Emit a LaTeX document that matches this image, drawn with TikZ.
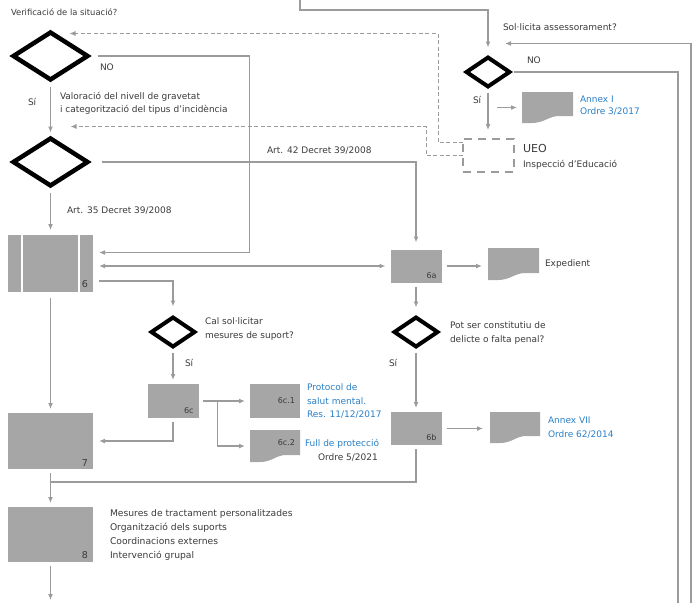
\documentclass[tikz,border=0pt]{standalone}
\usepackage{fontspec}
\setmainfont{DejaVu Sans}
\usetikzlibrary{shapes.geometric,arrows.meta,calc}
\definecolor{boxg}{HTML}{A6A6A6}
\definecolor{lineg}{HTML}{9B9B9B}
\definecolor{txt}{HTML}{3A3A3A}
\definecolor{blu}{HTML}{2A7FC6}
\newcommand{\docfill}[1]{%
  \fill[boxg] (#1.north west) -- (#1.north east) -- ([yshift=7pt]#1.south east)
   -- ([xshift=-14pt,yshift=7pt]#1.south east)
   .. controls ([xshift=-24pt,yshift=7pt]#1.south east) and ([xshift=22pt,yshift=0pt]#1.south west)
   .. ([xshift=10pt]#1.south west) -- (#1.south west) -- cycle;}
\begin{document}
\begin{tikzpicture}[x=1pt,y=-1pt,
  every node/.style={inner sep=0pt, outer sep=0pt, text=txt},
  bigdia/.style={diamond, draw=black, line width=4.5pt, minimum width=74pt, minimum height=47pt},
  smalldia/.style={diamond, draw=black, line width=4pt, minimum width=43pt, minimum height=29pt},
  gbox/.style={fill=boxg, minimum width=51pt, minimum height=33pt},
  bigbox/.style={fill=boxg, minimum width=85pt, minimum height=56pt},
  docbox/.style={minimum width=51pt, minimum height=32pt},
  ln/.style={draw=lineg, line width=1.2pt},
  arr/.style={ln, -{Latex[length=6pt,width=5pt]}},
  arrtwo/.style={ln, {Latex[length=6pt,width=5pt]}-{Latex[length=6pt,width=5pt]}},
  dasharr/.style={draw=lineg, line width=0.9pt, dash pattern=on 4pt off 2.5pt, -{Latex[length=6pt,width=5pt]}},
  lab/.style={font=\fontsize{9}{12}\selectfont, anchor=west, align=left},
  nlab/.style={font=\fontsize{8}{9}\selectfont},
  blab/.style={lab, text=blu},
]
\useasboundingbox (0,0) rectangle (693,603);

% diamonds
\node[bigdia] (D1) at (50.5,56) {};
\node[bigdia] (D2) at (50.5,162) {};
\node[smalldia] (Dsol) at (488,72) {};
\node[smalldia] (Dcal) at (173,332) {};
\node[smalldia] (Dpot) at (416,332) {};

% boxes
\node[bigbox, minimum height=57pt] (B6) at (50.5,263.5) {};
\draw[white, line width=2pt] ([xshift=14pt]B6.north west) -- ([xshift=14pt]B6.south west);
\draw[white, line width=2pt] ([xshift=-14pt]B6.north east) -- ([xshift=-14pt]B6.south east);
\node[nlab, anchor=south east] (l6) at ([xshift=-5pt,yshift=4pt]B6.south east) {\fontsize{9.5}{10}\selectfont 6};
\node[bigbox] (B7) at (50.5,441) {};
\node[nlab, anchor=south east] (l7) at ([xshift=-5pt,yshift=3pt]B7.south east) {\fontsize{9.5}{10}\selectfont 7};
\node[bigbox, minimum height=55pt] (B8) at (50.5,534.5) {};
\node[nlab, anchor=south east] (l8) at ([xshift=-5pt,yshift=3pt]B8.south east) {\fontsize{9.5}{10}\selectfont 8};

\node[gbox] (B6a) at (416,266) {};
\node[nlab, anchor=south east] (l6a) at ([xshift=-5pt,yshift=4pt]B6a.south east) {6a};
\node[gbox] (B6b) at (416,428.5) {};
\node[nlab, anchor=south east] (l6b) at ([xshift=-5pt,yshift=4pt]B6b.south east) {6b};
\node[gbox, minimum height=34pt] (B6c) at (173,401) {};
\node[nlab, anchor=south east] (l6c) at ([xshift=-5pt,yshift=4pt]B6c.south east) {6c};
\node[gbox, minimum width=50pt, minimum height=34pt] (B6c1) at (275,401) {};
\node[nlab, anchor=east] (l6c1) at ([xshift=-5pt]B6c1.east) {6c.1};

% document shapes
\node[docbox, minimum width=50pt] (D6c2) at (275,446) {};
\docfill{D6c2}
\node[nlab, anchor=east] (l6c2) at ([xshift=-5pt,yshift=3pt]D6c2.east) {6c.2};
\node[docbox] (Exp) at (513.5,264) {};
\docfill{Exp}
\node[docbox, minimum width=50pt, minimum height=31pt] (A7) at (515,427.5) {};
\docfill{A7}
\node[docbox, minimum height=31pt] (A1) at (547.5,107.5) {};
\docfill{A1}

% UEO
\node[draw=lineg, line width=2.2pt, dash pattern=on 8pt off 6pt, minimum width=51pt, minimum height=33pt] (UEO) at (488.5,155.5) {};

% texts
\node[lab, font=\fontsize{8.4}{10}\selectfont] (tver) at (11,12) {Verificació de la situació?};
\node[lab] (tno1) at (100,67) {NO};
\node[lab] (tsi1) at (28,102) {Sí};
\node[lab, font=\fontsize{9}{13}\selectfont] (tval) at (60,103.5) {Valoració del nivell de gravetat\\i categorització del tipus d'incidència};
\node[lab] (tart35) at (67,211) {Art. 35 Decret 39/2008};
\node[lab] (tart42) at (267,151) {Art. 42 Decret 39/2008};
\node[lab] (tsol) at (503,27) {Sol·licita assessorament?};
\node[lab] (tno2) at (527,60) {NO};
\node[lab] (tsi2) at (473,100) {Sí};
\node[blab] (tannex1) at (580,106) {Annex I\\Ordre 3/2017};
\node[lab, font=\fontsize{11}{12}\selectfont] (tueo) at (523,148) {UEO};
\node[lab] (tinsp) at (523,165) {Inspecció d'Educació};
\node[lab] (texp) at (545,264) {Expedient};
\node[lab, font=\fontsize{9}{14}\selectfont] (tcal) at (205,329) {Cal sol·licitar\\mesures de suport?};
\node[lab] (tsi3) at (185,363) {Sí};
\node[lab, font=\fontsize{9}{14}\selectfont] (tpot) at (450,333) {Pot ser constitutiu de\\delicte o falta penal?};
\node[lab] (tsi4) at (389,363) {Sí};
\node[blab, font=\fontsize{9}{13.5}\selectfont] (tprot) at (307,401) {Protocol de\\salut mental.\\Res. 11/12/2017};
\node[blab] (tfull) at (305,444) {Full de protecció};
\node[lab] (tord5) at (318,457) {Ordre 5/2021};
\node[blab, font=\fontsize{9}{14}\selectfont] (tannex7) at (548,428) {Annex VII\\Ordre 62/2014};
\node[lab, font=\fontsize{9.2}{14}\selectfont] (tmes) at (110,534.5) {Mesures de tractament personalitzades\\Organització dels suports\\Coordinacions externes\\Intervenció grupal};

% free ends
\coordinate (topin) at (300,0);
\coordinate (rin) at (691,603);
\coordinate (rout) at (678,603);
\coordinate (bout) at (50.5,600);

% connectors
\draw[arr] (topin) -- ++(0,10) -| ([yshift=10pt]Dsol.north);
\draw[arr] (rin) |- ([xshift=17pt,yshift=14pt]Dsol.north);
\draw[ln] ([xshift=4pt]Dsol.east) -| (rout);
\draw[arr] ([yshift=-6pt]Dsol.south) -- ([yshift=9pt]UEO.north -| Dsol.south);
\draw[arr] ($(A1.west)+(-25,0)$) -- ([xshift=-5pt]A1.west);
\draw[dasharr] ([yshift=13pt]UEO.west) -- ++(-25,0) |- ([xshift=19pt,yshift=-1pt]D1.north);
\draw[dasharr] (UEO.west) -- ++(-37,0) |- ([xshift=20pt,yshift=12pt]D2.north);

\draw[arr] ([yshift=-7pt]D1.south) -- ([yshift=6pt]D2.north);
\draw[arr] ([xshift=10pt]D1.east) -- ++(152,0) |- ([xshift=6pt,yshift=11pt]B6.east);
\draw[arr] ([xshift=14pt]D2.east) -| ([yshift=7pt]B6a.north);
\draw[arr] ([yshift=-7pt]D2.south) -- ([yshift=5pt]B6.north);

\draw[arrtwo] ([xshift=6pt]B6.east |- B6a.west) -- ([xshift=-5pt]B6a.west);
\draw[arr] ([xshift=6pt,yshift=-17.5pt]B6.east) -| ([yshift=11pt]Dcal.north);
\draw[arr] ([yshift=-6pt]B6.south) -- ([yshift=4pt]B7.north);

\draw[arr] ([yshift=-6pt]Dcal.south) -- ([yshift=4pt]B6c.north);
\draw[ln] ([xshift=4pt]B6c.east) -- ++(15,0) coordinate (split);
\draw[arr] (split) -- ([xshift=-5pt]B6c1.west);
\draw[arr] (split) |- ([xshift=-5pt]D6c2.west);
\draw[arr] ([yshift=-4pt]B6c.south) |- ([xshift=6pt]B7.east);

\draw[arr] ([xshift=5pt]B6a.east) -- ([xshift=-6pt]Exp.west |- B6a.east);
\draw[arr] ([yshift=-4pt]B6a.south) -- ([yshift=10pt]Dpot.north);
\draw[arr] ([yshift=-6pt]Dpot.south) -- ([yshift=4pt]B6b.north);
\draw[arr] ([xshift=5pt]B6b.east) -- ([xshift=-7pt]A7.west |- B6b.east);

\draw[arr] ([yshift=-4pt]B7.south) -- coordinate[pos=0.3] (j) ([yshift=4pt]B8.north);
\draw[ln] ([yshift=-4pt]B6b.south) |- (j);
\draw[arr] ([yshift=-4pt]B8.south) -- (bout);
\end{tikzpicture}
\end{document}
